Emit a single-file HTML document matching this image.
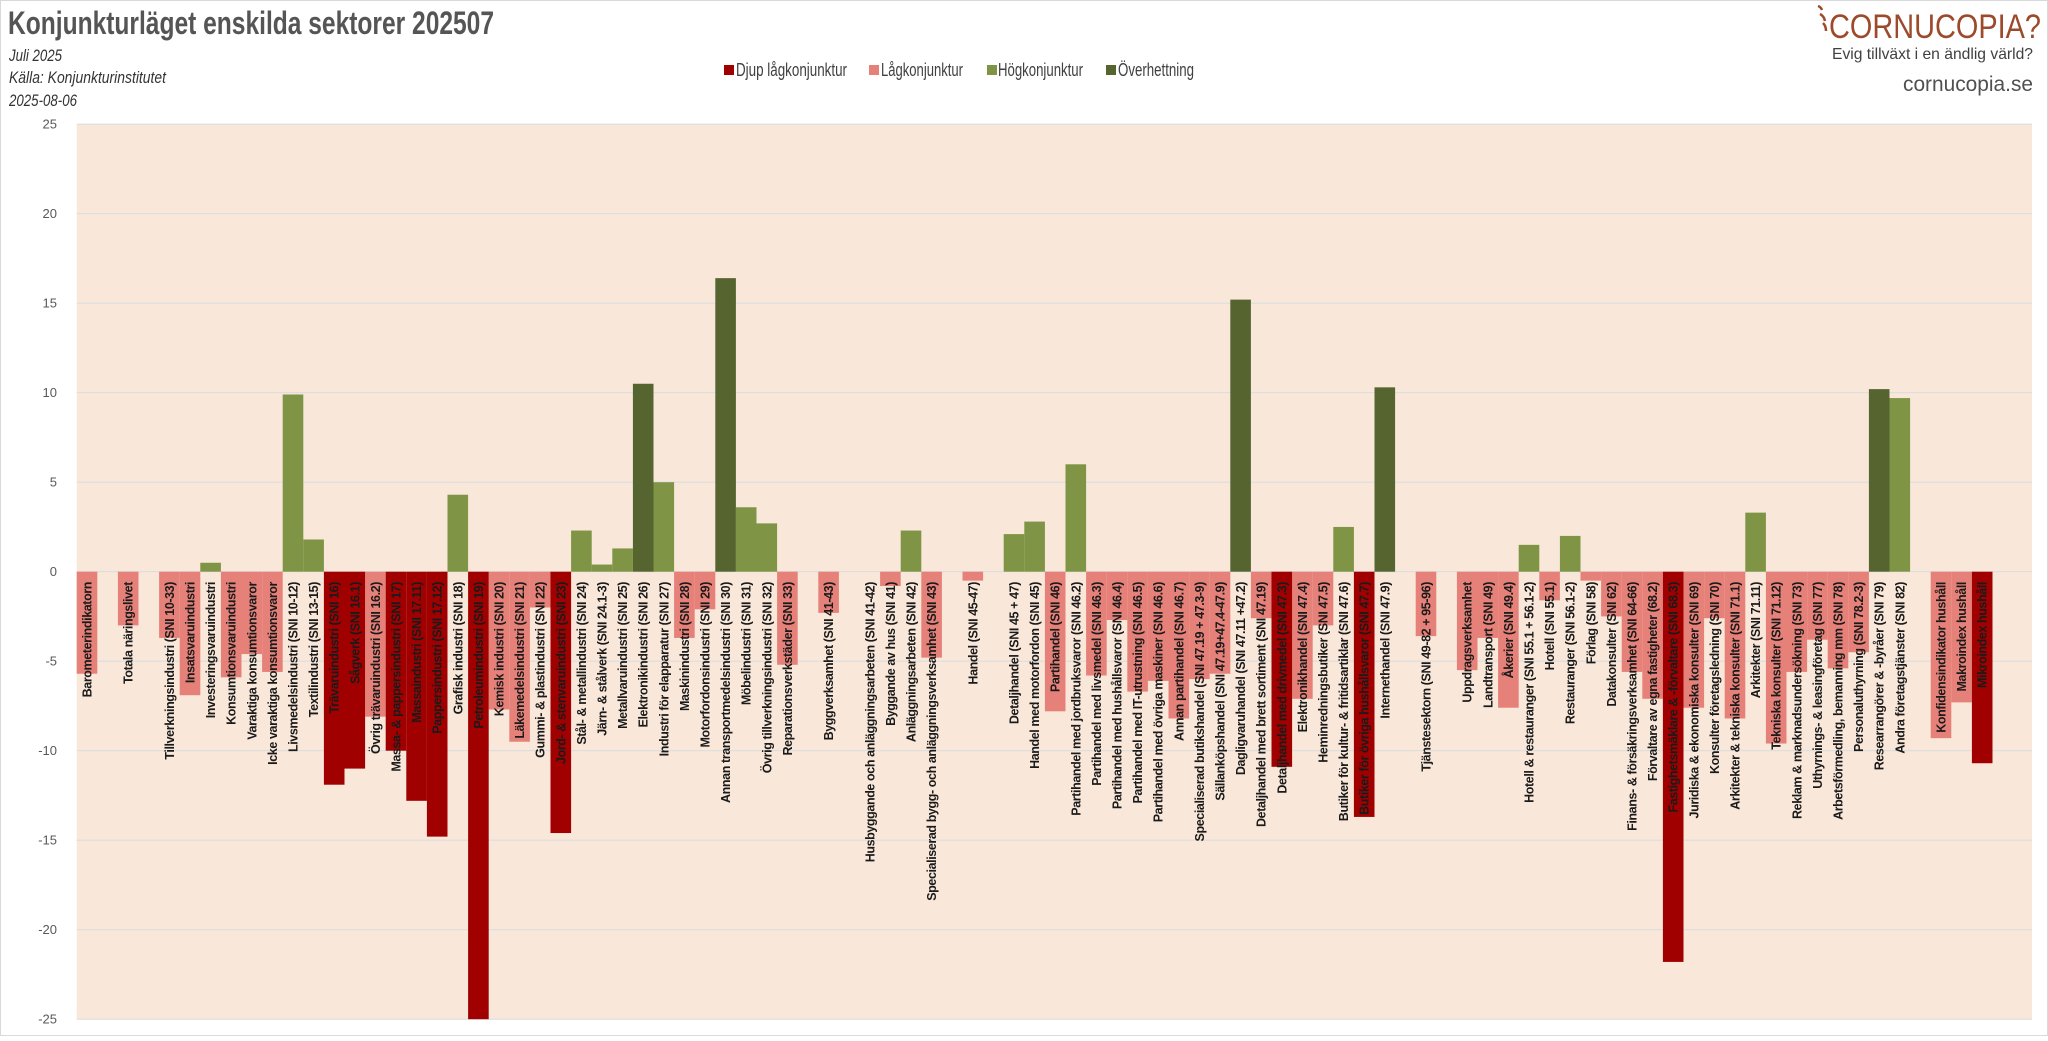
<!DOCTYPE html>
<html><head><meta charset="utf-8">
<style>
html,body{margin:0;padding:0;background:#fff;}
body{width:2048px;height:1036px;overflow:hidden;font-family:"Liberation Sans",sans-serif;}
</style></head>
<body>
<svg width="2048" height="1036" viewBox="0 0 2048 1036" xmlns="http://www.w3.org/2000/svg" font-family="Liberation Sans, sans-serif">
<rect x="0" y="0" width="2048" height="1036" fill="#fff"/>
<rect x="0.5" y="0.5" width="2047" height="1035" fill="none" stroke="#d9d9d9"/>
<!-- Header -->
<text x="8" y="34" font-size="32" font-weight="bold" fill="#555" textLength="486" lengthAdjust="spacingAndGlyphs">Konjunkturläget enskilda sektorer 202507</text>
<text x="9" y="61" font-size="17" font-style="italic" fill="#333" textLength="53" lengthAdjust="spacingAndGlyphs">Juli 2025</text>
<text x="9" y="83" font-size="17" font-style="italic" fill="#333" textLength="157" lengthAdjust="spacingAndGlyphs">Källa: Konjunkturinstitutet</text>
<text x="9" y="106" font-size="17" font-style="italic" fill="#333" textLength="68" lengthAdjust="spacingAndGlyphs">2025-08-06</text>
<!-- Legend -->
<g font-size="18" fill="#404040">
<rect x="724" y="65" width="10" height="10" fill="#a00000"/><text x="736" y="76" textLength="111" lengthAdjust="spacingAndGlyphs">Djup lågkonjunktur</text>
<rect x="869" y="65" width="10" height="10" fill="#e6817a"/><text x="881" y="76" textLength="82" lengthAdjust="spacingAndGlyphs">Lågkonjunktur</text>
<rect x="987" y="65" width="10" height="10" fill="#7f9444"/><text x="998" y="76" textLength="85" lengthAdjust="spacingAndGlyphs">Högkonjunktur</text>
<rect x="1106" y="65" width="10" height="10" fill="#566530"/><text x="1118" y="76" textLength="76" lengthAdjust="spacingAndGlyphs">Överhettning</text>
</g>
<!-- Logo -->
<g stroke="#9c4a2a" stroke-width="2.5" fill="none">
<path d="M1818 6 q3 1 4 4"/>
<path d="M1820 14 q4 2 5 7"/>
<path d="M1823 23 q3 3 3 8"/>
</g>
<text x="1829" y="38" font-size="34" fill="#9c4a2a" textLength="212" lengthAdjust="spacingAndGlyphs">CORNUCOPIA?</text>
<text x="1832" y="59" font-size="16" fill="#404040" textLength="201" lengthAdjust="spacingAndGlyphs">Evig tillväxt i en ändlig värld?</text>
<text x="1903" y="91" font-size="21" fill="#505050" textLength="130" lengthAdjust="spacingAndGlyphs">cornucopia.se</text>
<!-- Plot area -->
<rect x="76.7" y="124" width="1955.3" height="895.2" fill="#f9e8da"/>
<g stroke="#dcdcdc" stroke-width="1.2">
<line x1="76.7" x2="2032" y1="124.2" y2="124.2"/>
<line x1="76.7" x2="2032" y1="213.7" y2="213.7"/>
<line x1="76.7" x2="2032" y1="303.2" y2="303.2"/>
<line x1="76.7" x2="2032" y1="392.7" y2="392.7"/>
<line x1="76.7" x2="2032" y1="482.2" y2="482.2"/>
<line x1="76.7" x2="2032" y1="571.7" y2="571.7"/>
<line x1="76.7" x2="2032" y1="661.2" y2="661.2"/>
<line x1="76.7" x2="2032" y1="750.7" y2="750.7"/>
<line x1="76.7" x2="2032" y1="840.2" y2="840.2"/>
<line x1="76.7" x2="2032" y1="929.7" y2="929.7"/>
<line x1="76.7" x2="2032" y1="1019.2" y2="1019.2"/>
</g>
<g font-size="13" fill="#595959" text-anchor="end">
<text x="57" y="128.5">25</text>
<text x="57" y="218">20</text>
<text x="57" y="307.5">15</text>
<text x="57" y="397">10</text>
<text x="57" y="486.5">5</text>
<text x="57" y="576">0</text>
<text x="57" y="665.5">-5</text>
<text x="57" y="755">-10</text>
<text x="57" y="844.5">-15</text>
<text x="57" y="934">-20</text>
<text x="57" y="1023.5">-25</text>
</g>
<!-- Bars -->
<g transform="translate(76.7,571.7) scale(20.6,-17.9)">
<g fill="#e6817a">
<rect x="0" y="-5.7" width="1" height="5.7"/>
<rect x="2" y="-3.0" width="1" height="3.0"/>
<rect x="4" y="-3.7" width="1" height="3.7"/>
<rect x="5" y="-6.9" width="1" height="6.9"/>
<rect x="7" y="-5.9" width="1" height="5.9"/>
<rect x="8" y="-4.6" width="1" height="4.6"/>
<rect x="9" y="-5.6" width="1" height="5.6"/>
<rect x="14" y="-8.1" width="1" height="8.1"/>
<rect x="20" y="-7.7" width="1" height="7.7"/>
<rect x="21" y="-9.5" width="1" height="9.5"/>
<rect x="22" y="-2.0" width="1" height="2.0"/>
<rect x="29" y="-3.7" width="1" height="3.7"/>
<rect x="30" y="-2.1" width="1" height="2.1"/>
<rect x="34" y="-5.2" width="1" height="5.2"/>
<rect x="36" y="-2.3" width="1" height="2.3"/>
<rect x="39" y="-0.8" width="1" height="0.8"/>
<rect x="41" y="-4.8" width="1" height="4.8"/>
<rect x="43" y="-0.5" width="1" height="0.5"/>
<rect x="47" y="-7.8" width="1" height="7.8"/>
<rect x="49" y="-5.8" width="1" height="5.8"/>
<rect x="50" y="-2.7" width="1" height="2.7"/>
<rect x="51" y="-6.7" width="1" height="6.7"/>
<rect x="52" y="-6.1" width="1" height="6.1"/>
<rect x="53" y="-8.2" width="1" height="8.2"/>
<rect x="54" y="-6.0" width="1" height="6.0"/>
<rect x="55" y="-5.7" width="1" height="5.7"/>
<rect x="57" y="-2.6" width="1" height="2.6"/>
<rect x="59" y="-7.1" width="1" height="7.1"/>
<rect x="60" y="-3.0" width="1" height="3.0"/>
<rect x="65" y="-3.6" width="1" height="3.6"/>
<rect x="67" y="-5.5" width="1" height="5.5"/>
<rect x="68" y="-3.7" width="1" height="3.7"/>
<rect x="69" y="-7.6" width="1" height="7.6"/>
<rect x="71" y="-1.6" width="1" height="1.6"/>
<rect x="73" y="-0.5" width="1" height="0.5"/>
<rect x="74" y="-2.5" width="1" height="2.5"/>
<rect x="75" y="-5.6" width="1" height="5.6"/>
<rect x="76" y="-7.1" width="1" height="7.1"/>
<rect x="78" y="-7.6" width="1" height="7.6"/>
<rect x="79" y="-2.6" width="1" height="2.6"/>
<rect x="80" y="-8.2" width="1" height="8.2"/>
<rect x="82" y="-9.6" width="1" height="9.6"/>
<rect x="83" y="-5.6" width="1" height="5.6"/>
<rect x="84" y="-3.8" width="1" height="3.8"/>
<rect x="85" y="-5.4" width="1" height="5.4"/>
<rect x="86" y="-4.5" width="1" height="4.5"/>
<rect x="90" y="-9.3" width="1" height="9.3"/>
<rect x="91" y="-7.3" width="1" height="7.3"/>
</g>
<g fill="#a00000">
<rect x="12" y="-11.9" width="1" height="11.9"/>
<rect x="13" y="-11.0" width="1" height="11.0"/>
<rect x="15" y="-10.0" width="1" height="10.0"/>
<rect x="16" y="-12.8" width="1" height="12.8"/>
<rect x="17" y="-14.8" width="1" height="14.8"/>
<rect x="19" y="-25" width="1" height="25"/>
<rect x="23" y="-14.6" width="1" height="14.6"/>
<rect x="58" y="-10.9" width="1" height="10.9"/>
<rect x="62" y="-13.7" width="1" height="13.7"/>
<rect x="77" y="-21.8" width="1" height="21.8"/>
<rect x="92" y="-10.7" width="1" height="10.7"/>
</g>
<g fill="#7f9444">
<rect x="6" y="0" width="1" height="0.5"/>
<rect x="10" y="0" width="1" height="9.9"/>
<rect x="11" y="0" width="1" height="1.8"/>
<rect x="18" y="0" width="1" height="4.3"/>
<rect x="24" y="0" width="1" height="2.3"/>
<rect x="25" y="0" width="1" height="0.4"/>
<rect x="26" y="0" width="1" height="1.3"/>
<rect x="28" y="0" width="1" height="5.0"/>
<rect x="32" y="0" width="1" height="3.6"/>
<rect x="33" y="0" width="1" height="2.7"/>
<rect x="40" y="0" width="1" height="2.3"/>
<rect x="45" y="0" width="1" height="2.1"/>
<rect x="46" y="0" width="1" height="2.8"/>
<rect x="48" y="0" width="1" height="6.0"/>
<rect x="61" y="0" width="1" height="2.5"/>
<rect x="70" y="0" width="1" height="1.5"/>
<rect x="72" y="0" width="1" height="2.0"/>
<rect x="81" y="0" width="1" height="3.3"/>
<rect x="88" y="0" width="1" height="9.7"/>
</g>
<g fill="#566530">
<rect x="27" y="0" width="1" height="10.5"/>
<rect x="31" y="0" width="1" height="16.4"/>
<rect x="56" y="0" width="1" height="15.2"/>
<rect x="63" y="0" width="1" height="10.3"/>
<rect x="87" y="0" width="1" height="10.2"/>
</g>
</g>
<!-- Category labels -->
<g font-size="12.5" font-weight="bold" fill="#1a1a1a" text-anchor="end" letter-spacing="-0.4">
<text transform="translate(91.5,582) rotate(-90)">Barometerindikatorn</text>
<text transform="translate(132.7,582) rotate(-90)">Totala näringslivet</text>
<text transform="translate(173.9,582) rotate(-90)">Tillverkningsindustri (SNI 10-33)</text>
<text transform="translate(194.5,582) rotate(-90)">Insatsvaruindustri</text>
<text transform="translate(215.1,582) rotate(-90)">Investeringsvaruindustri</text>
<text transform="translate(235.7,582) rotate(-90)">Konsumtionsvaruindustri</text>
<text transform="translate(256.3,582) rotate(-90)">Varaktiga konsumtionsvaror</text>
<text transform="translate(276.9,582) rotate(-90)">Icke varaktiga konsumtionsvaror</text>
<text transform="translate(297.5,582) rotate(-90)">Livsmedelsindustri (SNI 10-12)</text>
<text transform="translate(318.1,582) rotate(-90)">Textilindustri (SNI 13-15)</text>
<text transform="translate(338.7,582) rotate(-90)">Trävaruindustri (SNI 16)</text>
<text transform="translate(359.3,582) rotate(-90)">Sågverk (SNI 16.1)</text>
<text transform="translate(379.9,582) rotate(-90)">Övrig trävaruindustri (SNI 16.2)</text>
<text transform="translate(400.5,582) rotate(-90)">Massa- &amp; pappersindustri (SNI 17)</text>
<text transform="translate(421.1,582) rotate(-90)">Massaindustri (SNI 17.11)</text>
<text transform="translate(441.7,582) rotate(-90)">Pappersindustri (SNI 17.12)</text>
<text transform="translate(462.3,582) rotate(-90)">Grafisk industri (SNI 18)</text>
<text transform="translate(482.9,582) rotate(-90)">Petroleumindustri (SNI 19)</text>
<text transform="translate(503.5,582) rotate(-90)">Kemisk industri (SNI 20)</text>
<text transform="translate(524.1,582) rotate(-90)">Läkemedelsindustri (SNI 21)</text>
<text transform="translate(544.7,582) rotate(-90)">Gummi- &amp; plastindustri (SNI 22)</text>
<text transform="translate(565.3,582) rotate(-90)">Jord- &amp; stenvaruindustri (SNI 23)</text>
<text transform="translate(585.9,582) rotate(-90)">Stål- &amp; metallindustri (SNI 24)</text>
<text transform="translate(606.5,582) rotate(-90)">Järn- &amp; stålverk (SNI 24.1-3)</text>
<text transform="translate(627.1,582) rotate(-90)">Metallvaruindustri (SNI 25)</text>
<text transform="translate(647.7,582) rotate(-90)">Elektronikindustri (SNI 26)</text>
<text transform="translate(668.3,582) rotate(-90)">Industri för elapparatur (SNI 27)</text>
<text transform="translate(688.9,582) rotate(-90)">Maskinindustri (SNI 28)</text>
<text transform="translate(709.5,582) rotate(-90)">Motorfordonsindustri (SNI 29)</text>
<text transform="translate(730.1,582) rotate(-90)">Annan transportmedelsindustri (SNI 30)</text>
<text transform="translate(750.7,582) rotate(-90)">Möbelindustri (SNI 31)</text>
<text transform="translate(771.3,582) rotate(-90)">Övrig tillverkningsindustri (SNI 32)</text>
<text transform="translate(791.9,582) rotate(-90)">Reparationsverkstäder (SNI 33)</text>
<text transform="translate(833.1,582) rotate(-90)">Byggverksamhet (SNI 41-43)</text>
<text transform="translate(874.3,582) rotate(-90)">Husbyggande och anläggningsarbeten (SNI 41-42)</text>
<text transform="translate(894.9,582) rotate(-90)">Byggande av hus (SNI 41)</text>
<text transform="translate(915.5,582) rotate(-90)">Anläggningsarbeten (SNI 42)</text>
<text transform="translate(936.1,582) rotate(-90)">Specialiserad bygg- och anläggningsverksamhet (SNI 43)</text>
<text transform="translate(977.3,582) rotate(-90)">Handel (SNI 45-47)</text>
<text transform="translate(1018.5,582) rotate(-90)">Detaljhandel (SNI 45 + 47)</text>
<text transform="translate(1039.1,582) rotate(-90)">Handel med motorfordon (SNI 45)</text>
<text transform="translate(1059.7,582) rotate(-90)">Partihandel (SNI 46)</text>
<text transform="translate(1080.3,582) rotate(-90)">Partihandel med jordbruksvaror (SNI 46.2)</text>
<text transform="translate(1100.9,582) rotate(-90)">Partihandel med livsmedel (SNI 46.3)</text>
<text transform="translate(1121.5,582) rotate(-90)">Partihandel med hushållsvaror (SNI 46.4)</text>
<text transform="translate(1142.1,582) rotate(-90)">Partihandel med IT-utrustning (SNI 46.5)</text>
<text transform="translate(1162.7,582) rotate(-90)">Partihandel med övriga maskiner (SNI 46.6)</text>
<text transform="translate(1183.3,582) rotate(-90)">Annan partihandel (SNI 46.7)</text>
<text transform="translate(1203.9,582) rotate(-90)">Specialiserad butikshandel (SNI 47.19 + 47.3-9)</text>
<text transform="translate(1224.5,582) rotate(-90)">Sällanköpshandel (SNI 47.19+47.4-47.9)</text>
<text transform="translate(1245.1,582) rotate(-90)">Dagligvaruhandel (SNI 47.11 +47.2)</text>
<text transform="translate(1265.7,582) rotate(-90)">Detaljhandel med brett sortiment (SNI 47.19)</text>
<text transform="translate(1286.3,582) rotate(-90)">Detaljhandel med drivmedel (SNI 47.3)</text>
<text transform="translate(1306.9,582) rotate(-90)">Elektronikhandel (SNI 47.4)</text>
<text transform="translate(1327.5,582) rotate(-90)">Heminredningsbutiker (SNI 47.5)</text>
<text transform="translate(1348.1,582) rotate(-90)">Butiker för kultur- &amp; fritidsartiklar (SNI 47.6)</text>
<text transform="translate(1368.7,582) rotate(-90)">Butiker för övriga hushållsvaror (SNI 47.7)</text>
<text transform="translate(1389.3,582) rotate(-90)">Internethandel (SNI 47.9)</text>
<text transform="translate(1430.5,582) rotate(-90)">Tjänstesektorn (SNI 49-82 + 95-96)</text>
<text transform="translate(1471.7,582) rotate(-90)">Uppdragsverksamhet</text>
<text transform="translate(1492.3,582) rotate(-90)">Landtransport (SNI 49)</text>
<text transform="translate(1512.9,582) rotate(-90)">Åkerier (SNI 49.4)</text>
<text transform="translate(1533.5,582) rotate(-90)">Hotell &amp; restauranger (SNI 55.1 + 56.1-2)</text>
<text transform="translate(1554.1,582) rotate(-90)">Hotell (SNI 55.1)</text>
<text transform="translate(1574.7,582) rotate(-90)">Restauranger (SNI 56.1-2)</text>
<text transform="translate(1595.3,582) rotate(-90)">Förlag (SNI 58)</text>
<text transform="translate(1615.9,582) rotate(-90)">Datakonsulter (SNI 62)</text>
<text transform="translate(1636.5,582) rotate(-90)">Finans- &amp; försäkringsverksamhet (SNI 64-66)</text>
<text transform="translate(1657.1,582) rotate(-90)">Förvaltare av egna fastigheter (68.2)</text>
<text transform="translate(1677.7,582) rotate(-90)">Fastighetsmäklare &amp; -förvaltare (SNI 68.3)</text>
<text transform="translate(1698.3,582) rotate(-90)">Juridiska &amp; ekonomiska konsulter (SNI 69)</text>
<text transform="translate(1718.9,582) rotate(-90)">Konsulter företagsledning (SNI 70)</text>
<text transform="translate(1739.5,582) rotate(-90)">Arkitekter &amp; tekniska konsulter (SNI 71.1)</text>
<text transform="translate(1760.1,582) rotate(-90)">Arkitekter (SNI 71.11)</text>
<text transform="translate(1780.7,582) rotate(-90)">Tekniska konsulter (SNI 71.12)</text>
<text transform="translate(1801.3,582) rotate(-90)">Reklam &amp; marknadsundersökning (SNI 73)</text>
<text transform="translate(1821.9,582) rotate(-90)">Uthyrnings- &amp; leasingföretag (SNI 77)</text>
<text transform="translate(1842.5,582) rotate(-90)">Arbetsförmedling, bemanning mm (SNI 78)</text>
<text transform="translate(1863.1,582) rotate(-90)">Personaluthyrning (SNI 78.2-3)</text>
<text transform="translate(1883.7,582) rotate(-90)">Researrangörer &amp; -byråer (SNI 79)</text>
<text transform="translate(1904.3,582) rotate(-90)">Andra företagstjänster (SNI 82)</text>
<text transform="translate(1945.5,582) rotate(-90)">Konfidensindikator hushåll</text>
<text transform="translate(1966.1,582) rotate(-90)">Makroindex hushåll</text>
<text transform="translate(1986.7,582) rotate(-90)">Mikroindex hushåll</text>
</g>
</svg>
</body></html>
